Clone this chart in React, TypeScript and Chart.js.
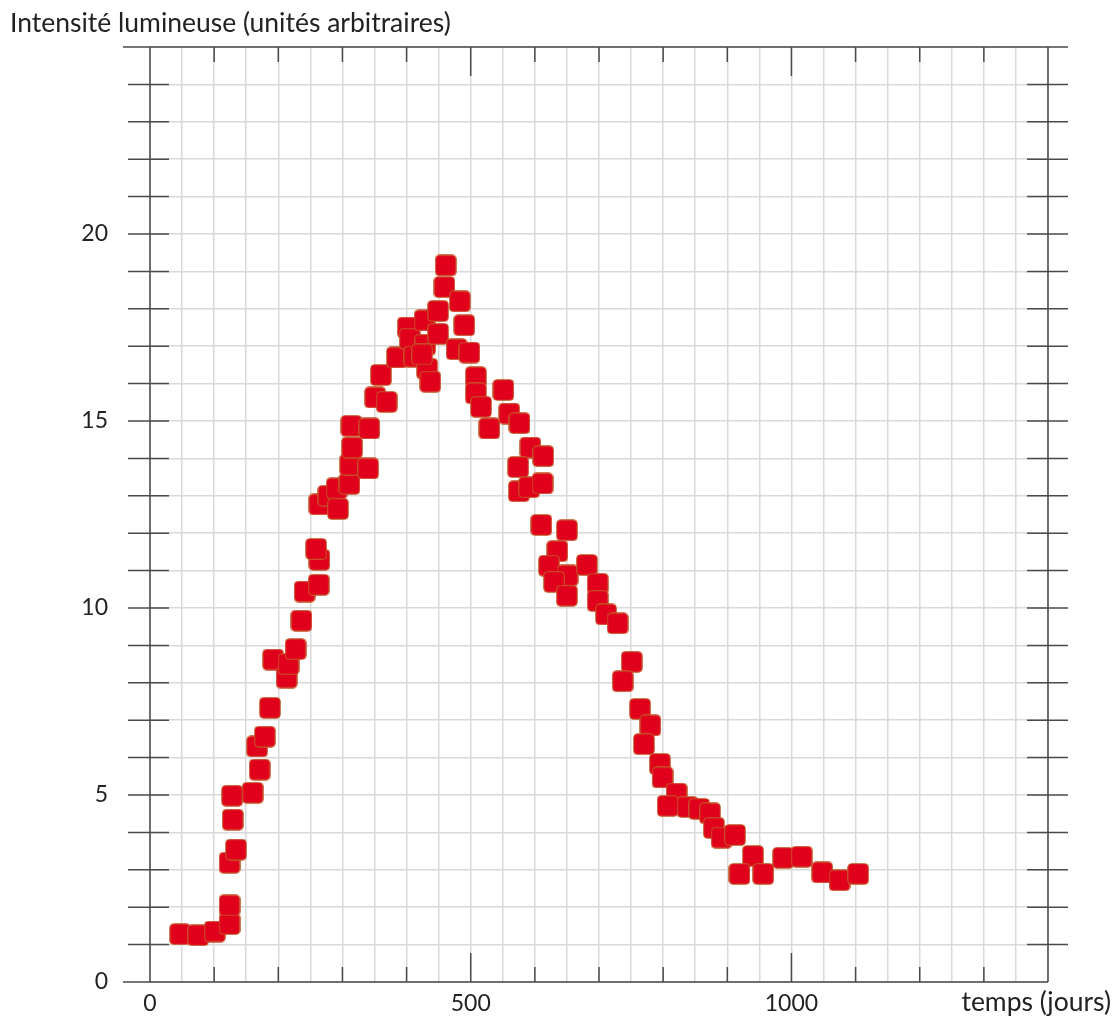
import React, { useEffect, useRef } from 'react';
import { Chart, registerables } from 'chart.js';

Chart.register(...registerables);

// ---- data ----
const timeDays = [
  47, 75, 101, 124, 124, 124, 134, 129, 128, 160,
  171, 167, 179, 187, 192, 213, 216, 227, 236, 241,
  263, 264, 259, 264, 278, 293, 291, 311, 312, 340,
  315, 314, 342, 351, 369, 360, 385, 402, 405, 412,
  428, 429, 432, 437, 449, 449, 459, 461, 483, 490,
  478, 498, 508, 508, 516, 529, 551, 560, 576, 593,
  613, 574, 575, 591, 612, 610, 650, 635, 622, 651,
  681, 630, 650, 698, 698, 711, 729, 751, 737, 764,
  780, 770, 795, 799, 821, 807, 838, 856, 873, 879,
  891, 912, 940, 919, 956, 987, 1016, 1048, 1075, 1104,
  424,
];
const intensity = [
  1.28, 1.25, 1.35, 1.55, 2.05, 3.19, 3.54, 4.34, 4.98, 5.06,
  5.68, 6.3, 6.56, 7.33, 8.62, 8.14, 8.5, 8.9, 9.66, 10.44,
  10.62, 11.29, 11.58, 12.77, 13.0, 12.65, 13.2, 13.32, 13.83, 13.73,
  14.29, 14.87, 14.8, 15.63, 15.51, 16.23, 16.7, 17.5, 17.2, 16.72,
  17.69, 17.04, 16.4, 16.05, 17.94, 17.33, 18.58, 19.16, 18.2, 17.56,
  16.92, 16.83, 16.17, 15.74, 15.38, 14.8, 15.83, 15.2, 14.94, 14.29,
  14.06, 13.77, 13.12, 13.23, 13.33, 12.22, 12.08, 11.52, 11.13, 10.87,
  11.15, 10.7, 10.33, 10.65, 10.19, 9.83, 9.59, 8.56, 8.04, 7.3,
  6.86, 6.36, 5.83, 5.47, 5.04, 4.71, 4.68, 4.63, 4.51, 4.12,
  3.86, 3.93, 3.37, 2.89, 2.89, 3.32, 3.35, 2.93, 2.72, 2.89,
  16.78,
];
const xLabelValues = [0, 500, 1000];
const yLabelValues = [0, 5, 10, 15, 20];
const yTitle = 'Intensité lumineuse (unités arbitraires)';
const xTitle = 'temps (jours)';

const FONT = 'Lato, "Open Sans", sans-serif';

function makeMarker(): HTMLCanvasElement {
  const c = document.createElement('canvas');
  c.width = 22;
  c.height = 22;
  const g = c.getContext('2d')!;
  g.beginPath();
  (g as any).roundRect(0.75, 0.75, 20.5, 20.5, 3.5);
  g.fillStyle = '#e1001b';
  g.fill();
  g.lineWidth = 1;
  g.strokeStyle = '#c0652e';
  g.stroke();
  return c;
}

const framePlugin = {
  id: 'frameTicks',
  beforeDatasetsDraw(chart: any) {
    const { ctx, chartArea: a, scales } = chart;
    const x = scales.x;
    const y = scales.y;
    ctx.save();
    ctx.strokeStyle = '#4a4a4a';
    ctx.lineWidth = 1.5;
    ctx.beginPath();
    // frame
    ctx.moveTo(a.left, a.top);
    ctx.lineTo(a.left, a.bottom);
    ctx.moveTo(a.left - 27, a.bottom);
    ctx.lineTo(a.right, a.bottom);
    ctx.moveTo(a.left - 27, a.top);
    ctx.lineTo(a.right + 20, a.top);
    ctx.moveTo(a.right, a.top);
    ctx.lineTo(a.right, a.bottom);
    // y ticks (left and right, crossing the axes)
    for (let v = 1; v < 25; v++) {
      const py = y.getPixelForValue(v);
      ctx.moveTo(a.left - 22, py);
      ctx.lineTo(a.left + 19, py);
      ctx.moveTo(a.right - 21, py);
      ctx.lineTo(a.right + 20, py);
    }
    // x ticks (bottom and top, inward)
    for (let d = 100; d < 1400; d += 100) {
      const px = x.getPixelForValue(d);
      const len = d % 500 === 0 ? 29 : 15;
      ctx.moveTo(px, a.bottom);
      ctx.lineTo(px, a.bottom - len);
      ctx.moveTo(px, a.top);
      ctx.lineTo(px, a.top + len);
    }
    ctx.stroke();
    ctx.restore();
  },
  afterDraw(chart: any) {
    const { ctx, chartArea: a, scales } = chart;
    const x = scales.x;
    const y = scales.y;
    ctx.save();
    ctx.fillStyle = '#222';
    // tick labels
    ctx.font = `23px ${FONT}`;
    ctx.textBaseline = 'middle';
    ctx.textAlign = 'right';
    for (const v of yLabelValues) {
      ctx.fillText(String(v), a.left - 42, y.getPixelForValue(v));
    }
    ctx.textAlign = 'center';
    for (const d of xLabelValues) {
      ctx.fillText(String(d), x.getPixelForValue(d), a.bottom + 22);
    }
    // axis titles
    ctx.font = `26.5px ${FONT}`;
    ctx.textAlign = 'left';
    ctx.fillText(yTitle, 10, 23);
    ctx.textAlign = 'right';
    ctx.fillText(xTitle, 1111, 1002);
    ctx.restore();
  },
};

export default function App() {
  const ref = useRef<HTMLCanvasElement | null>(null);

  useEffect(() => {
    if (!ref.current) return;
    const marker = makeMarker();
    const points = timeDays.map((d, i) => ({ x: d, y: intensity[i] }));
    const chart = new Chart(ref.current, {
      type: 'scatter',
      data: {
        datasets: [
          {
            data: points,
            pointStyle: marker as any,
            pointRadius: 11,
            pointHoverRadius: 11,
          },
        ],
      },
      options: {
        animation: false,
        responsive: false,
        events: [],
        clip: false as any,
        layout: { padding: { left: 0, right: 70, top: 47, bottom: 0 } },
        plugins: {
          legend: { display: false },
          tooltip: { enabled: false },
          title: { display: false },
        },
        scales: {
          x: {
            type: 'linear',
            min: 0,
            max: 1400,
            afterFit(scale: any) {
              scale.height = 41;
            },
            border: { display: false },
            grid: { color: '#d9d9d9', lineWidth: 1.5, drawTicks: false },
            ticks: { stepSize: 50, autoSkip: false, display: false },
          },
          y: {
            type: 'linear',
            min: 0,
            max: 25,
            afterFit(scale: any) {
              scale.width = 150;
            },
            border: { display: false },
            grid: { color: '#d9d9d9', lineWidth: 1.5, drawTicks: false },
            ticks: { stepSize: 1, autoSkip: false, display: false },
          },
        },
      },
      plugins: [framePlugin],
    });
    return () => chart.destroy();
  }, []);

  return (
    <div style={{ position: 'absolute', left: 0, top: 0, width: 1118, height: 1023, background: '#fff' }}>
      <canvas ref={ref} width={1118} height={1023} style={{ display: 'block' }} />
    </div>
  );
}
